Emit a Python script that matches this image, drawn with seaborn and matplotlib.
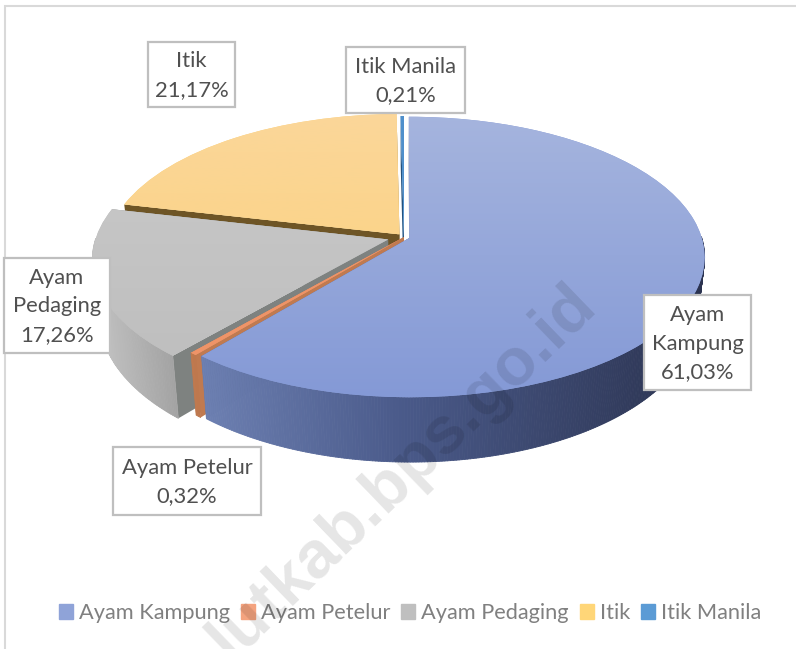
import numpy as np
import matplotlib
matplotlib.use("Agg")
import matplotlib.pyplot as plt
import seaborn as sns
from matplotlib.collections import PolyCollection
from matplotlib.patches import Patch, Rectangle
from matplotlib.transforms import Transform

OUTPUT_IMAGE = 'out.png'

categories = ["Ayam Kampung", "Ayam Petelur", "Ayam Pedaging", "Itik", "Itik Manila"]
shares = [61.03, 0.32, 17.26, 21.17, 0.21]
label_lines = ["Ayam\nKampung", "Ayam Petelur", "Ayam\nPedaging", "Itik", "Itik Manila"]

# look of each slice
explode = [0.02, 0.0, 0.057, 0.025, 0.0]
legend_colors = ["#8FA3D8", "#F4A37F", "#BFBFBF", "#FFD678", "#5B9BD5"]
top_colors = [("#A6B5DE", "#8499D6"), ("#EE9468", "#EE9468"), ("#CACACA", "#BDBDBD"),
              ("#FBD79A", "#FBD077"), ("#4F8FCB", "#4F8FCB")]
wall_stops = [
    [(200, "#6D80B2"), (400, "#4A5A8A"), (700, "#2B3350")],
    [(190, "#C07A50"), (210, "#B87048")],
    [(90, "#C4C4C4"), (180, "#A0A0A0")],
    [(100, "#8E7236"), (400, "#8E7236")],
    [(400, "#2F6090"), (410, "#2F6090")],
]
cut_colors = ["#44507A", "#C07A50", "#7E8280", "#6E5526", "#24527E"]
draw_order = [3, 4, 2, 1, 0]

# label boxes as left, top, right, bottom in pixels
label_boxes = [(644, 295, 751, 390), (113, 447, 261, 515), (4, 258, 110, 353),
               (148, 42, 235, 107), (346, 47, 465, 113)]

# projection of the pie plane onto the picture, in pixels
CX, CY = 404, 237
RX, RY = 292, 137.4
PERSP = 0.1357
DEPTH = 56
SHRINK = 0.024


def project(x, y, z=0.0):
    """Unit pie coordinates to pixels. z runs from 0 (top face) to 1 (bottom)."""
    s = 1 / (1 + PERSP * y)
    return CX + RX * x * s * (1 - SHRINK * z), CY - RY * y * s + DEPTH * s * z


class PieProjection(Transform):
    input_dims = 2
    output_dims = 2

    def transform_non_affine(self, values):
        values = np.asarray(values)
        px, py = project(values[:, 0], values[:, 1])
        return np.column_stack([px, py])


def add_walls(ax, idx, start, stop, zorder):
    """Outer wall and the two cut faces of one slice."""
    mid = np.radians((start + stop) / 2)
    ox = explode[idx] * np.sin(mid)
    oy = explode[idx] * np.cos(mid)
    stops = wall_stops[idx]
    stop_x = [p[0] for p in stops]
    stop_rgb = np.array([matplotlib.colors.to_rgb(p[1]) for p in stops])

    for angle in (start, stop):
        t = np.radians(angle)
        rim = (ox + np.sin(t), oy + np.cos(t))
        face = [project(ox, oy), project(*rim), project(*rim, 1.0), project(ox, oy, 1.0)]
        ax.add_patch(plt.Polygon(face, closed=True, fc=cut_colors[idx], ec='none', zorder=zorder))

    thetas = np.radians(np.linspace(start, stop, max(3, int(stop - start) * 2)))
    quads, colors = [], []
    for a, b in zip(thetas[:-1], thetas[1:]):
        # the back of the rim is hidden by the top face
        if np.cos(a) > 0.0 and np.cos(b) > 0.0:
            continue
        xa, ya = ox + np.sin(a), oy + np.cos(a)
        xb, yb = ox + np.sin(b), oy + np.cos(b)
        quad = [project(xa, ya), project(xb, yb), project(xb, yb, 1.0), project(xa, ya, 1.0)]
        quads.append(quad)
        mid_x = (quad[0][0] + quad[1][0]) / 2
        colors.append([np.interp(mid_x, stop_x, stop_rgb[:, c]) for c in range(3)])
    ax.add_collection(PolyCollection(quads, facecolors=colors, edgecolors=colors,
                                     linewidths=0.6, zorder=zorder + 1))


def add_top_shading(ax, wedge, idx, zorder):
    """Vertical gradient on the top face, clipped to the pie wedge."""
    first, last = [np.array(matplotlib.colors.to_rgb(c)) for c in top_colors[idx]]
    gradient = np.linspace(first, last, 256)[:, None, :]
    image = ax.imshow(gradient, extent=(0, 796, 400, 110), aspect='auto', zorder=zorder)
    image.set_clip_path(wedge)


def main():
    sns.set_theme(style="white")
    plt.rcParams['font.family'] = ['Lato', 'DejaVu Sans']

    fig = plt.figure(figsize=(7.96, 6.49), dpi=100, facecolor='white')
    ax = fig.add_axes([0, 0, 1, 1])

    wedges, _ = ax.pie(shares, explode=explode, startangle=90, counterclock=False, radius=1)
    projection = PieProjection() + ax.transData
    edges = np.cumsum([0] + shares) / sum(shares) * 360

    for layer, idx in enumerate(draw_order):
        base = 2 + layer * 10
        add_walls(ax, idx, edges[idx], edges[idx + 1], base)
        wedge = wedges[idx]
        wedge.set_transform(projection)
        wedge.set_facecolor(top_colors[idx][1])
        wedge.set_edgecolor('none')
        wedge.set_zorder(base + 2)
        add_top_shading(ax, wedge, idx, base + 3)

    # chart frame
    ax.plot([5, 5, 796], [649, 6, 6], color='#D9D9D9', lw=1.5, zorder=1, solid_joinstyle='miter')

    for idx, (left, top, right, bottom) in enumerate(label_boxes):
        ax.add_patch(Rectangle((left, top), right - left, bottom - top, fc='white',
                               ec='#BFBFBF', lw=1.6, zorder=70))
        value = f"{shares[idx]:.2f}".replace('.', ',') + '%'
        ax.text((left + right) / 2, (top + bottom) / 2 + 1, f"{label_lines[idx]}\n{value}",
                ha='center', va='center', fontsize=15.8, color='#505050',
                linespacing=1.52, zorder=71)

    handles = [Patch(color=c, label=name) for c, name in zip(legend_colors, categories)]
    ax.legend(handles=handles, ncols=5, loc='center', bbox_to_anchor=(410, 613),
              bbox_transform=ax.transData, frameon=False, fontsize=15.7,
              labelcolor='#808080', handlelength=0.64, handleheight=0.64,
              handletextpad=0.28, columnspacing=0.5, borderpad=0, borderaxespad=0)

    # site watermark across the chart, it runs off the bottom like the source
    ax.text(402, 472, "lutkab.bps.go.id", rotation=44, rotation_mode='anchor',
            ha='center', va='center', fontsize=48, fontweight='bold',
            family=['Liberation Sans', 'DejaVu Sans'], color='black', alpha=0.1, zorder=60)

    ax.set_aspect('auto')
    ax.set_xlim(0, 796)
    ax.set_ylim(649, 0)
    ax.set_axis_off()

    fig.savefig(OUTPUT_IMAGE, dpi=100)


if __name__ == "__main__":
    main()
